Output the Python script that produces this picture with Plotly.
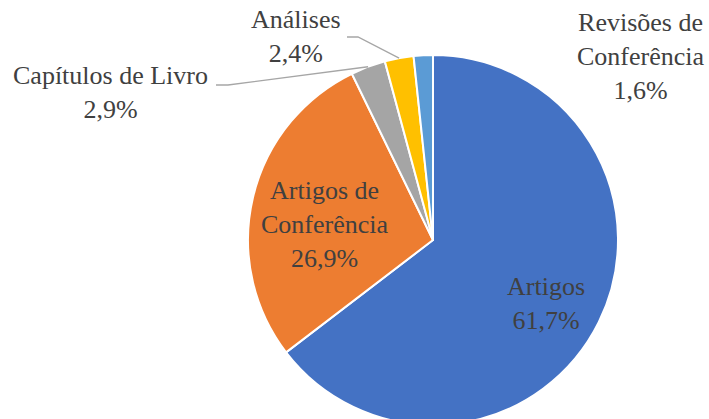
import math
import plotly.graph_objects as go

# ---- data ----
categories = ["Artigos", "Artigos de Conferência", "Capítulos de Livro", "Análises", "Revisões de Conferência"]
values = [61.7, 26.9, 2.9, 2.4, 1.6]
label_lines = [["Artigos"], ["Artigos de", "Conferência"], ["Capítulos de Livro"], ["Análises"], ["Revisões de", "Conferência"]]
colors = ["#4472C4", "#ED7D31", "#A5A5A5", "#FFC000", "#5B9BD5"]

W, H = 709, 425
CX, CY, R = 433, 240, 185  # pie centre / radius in pixels

def px(x):
    return x / W

def py(y):
    return 1 - y / H

fig = go.Figure(go.Pie(
    labels=categories, values=values, sort=False, direction="clockwise", rotation=0,
    marker=dict(colors=colors, line=dict(color="white", width=2)),
    textinfo="none", hoverinfo="label+value",
    domain=dict(x=[px(CX - R), px(CX + R)], y=[py(CY + R), py(CY - R)]),
    showlegend=False,
))

fmt = lambda v: f"{v:.1f}%".replace(".", ",")
texts = ["<br>".join(lines + [fmt(v)]) for lines, v in zip(label_lines, values)]

# label centres (pixels)
label_pos = [(546, 303), (325, 224), (110, 93), (296, 36), (641, 56)]
font = dict(family="Liberation Serif", size=26, color="#404040")
for t, (x, y) in zip(texts, label_pos):
    fig.add_annotation(x=px(x), y=py(y), xref="paper", yref="paper", text=t,
                       showarrow=False, font=font, xanchor="center", yanchor="middle")

# leader lines from the labels to the slice edges (slice angle from data)
total = sum(values)
cum = 0
mids = []
for v in values:
    mids.append((cum + v / 2) / total * 2 * math.pi)
    cum += v

def edge(i):
    a = mids[i]
    return CX + R * math.sin(a), CY - R * math.cos(a)

leaders = {2: [(216, 85), (228, 85)], 3: [(347, 37), (358, 37)]}
for i, pts in leaders.items():
    ex, ey = edge(i)
    allp = pts + [(ex, ey)]
    path = "M " + " L ".join(f"{px(x)},{py(y)}" for x, y in allp)
    fig.add_shape(type="path", path=path, xref="paper", yref="paper",
                  line=dict(color="#A6A6A6", width=1.3))

fig.update_layout(width=W, height=H, margin=dict(l=0, r=0, t=0, b=0),
                  font=dict(family="Liberation Serif"),
                  paper_bgcolor="white", plot_bgcolor="white")

fig.write_html("out.html", config={"displayModeBar": False},
               post_script="document.body.style.margin='0';document.body.style.overflow='hidden';")
